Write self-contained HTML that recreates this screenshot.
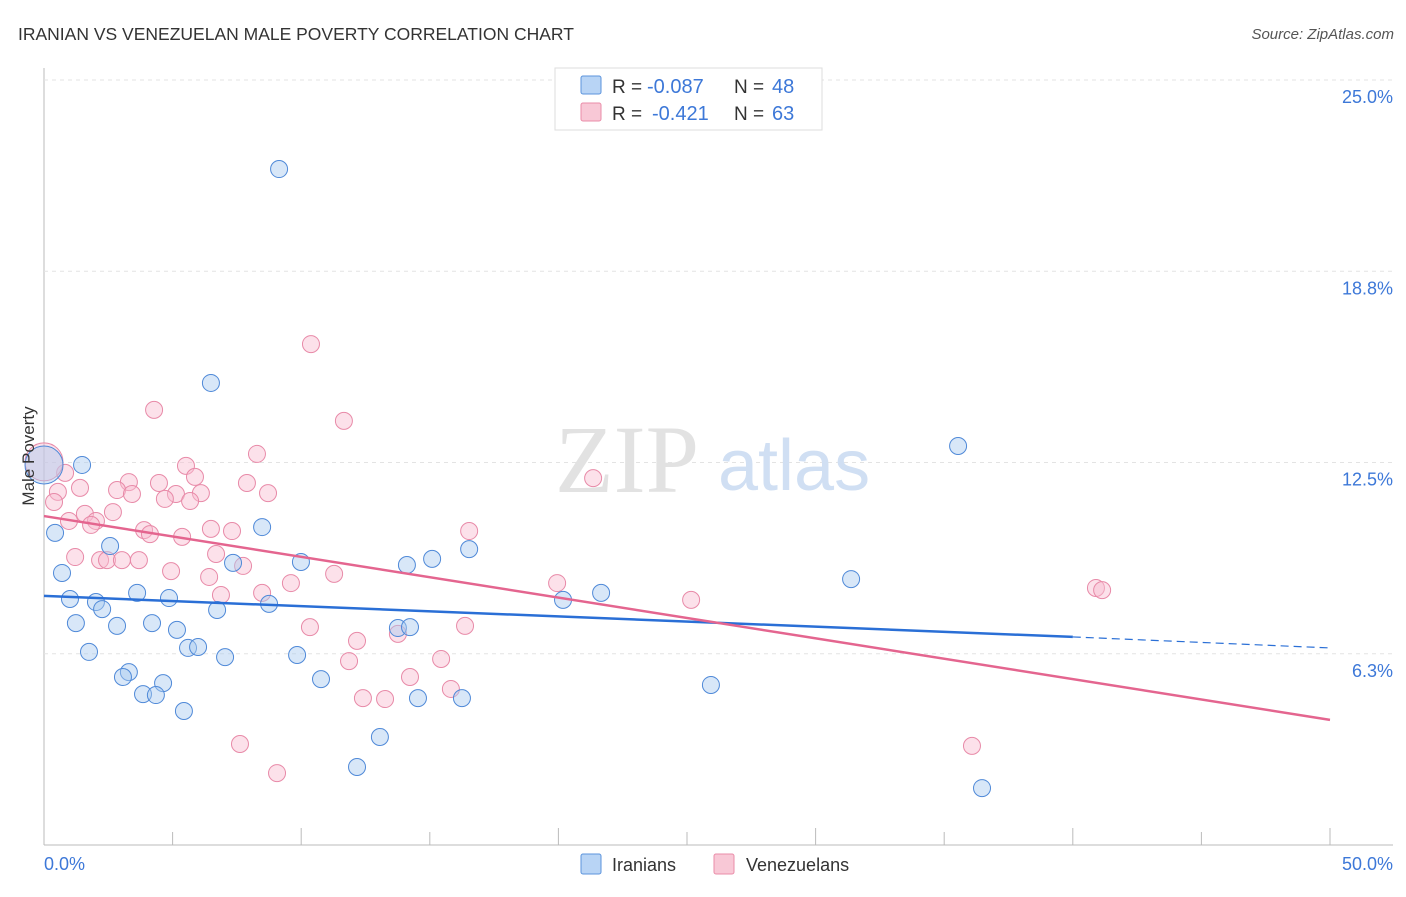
<!DOCTYPE html>
<html><head><meta charset="utf-8"><style>
body{margin:0;background:#fff;font-family:"Liberation Sans",sans-serif}
</style></head><body>
<svg id="chart" width="1406" height="892" xmlns="http://www.w3.org/2000/svg" font-family="Liberation Sans, sans-serif">
<text x="18" y="40" font-size="17.5" fill="#333">IRANIAN VS VENEZUELAN MALE POVERTY CORRELATION CHART</text>
<text x="1394" y="39" font-size="15" fill="#555" font-style="italic" text-anchor="end">Source: ZipAtlas.com</text>
<g id="grid"></g>
<text x="555" y="492" font-size="96" fill="#e2e2e2" font-family="Liberation Serif, serif">ZIP</text>
<text x="718" y="490" font-size="72" fill="#d0dff3">atlas</text>
<g id="marks"></g>
<text x="34" y="456" font-size="17" fill="#333" text-anchor="middle" transform="rotate(-90 34 456)">Male Poverty</text>
<g>
<rect x="555" y="68" width="267" height="62" fill="#fff" stroke="#ddd"/>
<rect x="581" y="76" width="20" height="18" fill="#b8d4f5" stroke="#5b93dc" rx="2"/>
<rect x="581" y="103" width="20" height="18" fill="#f8c8d6" stroke="#ea8ca8" rx="2"/>
<text x="612" y="93" font-size="19" fill="#333">R =</text>
<text x="647" y="93" font-size="20" fill="#3d78d8">-0.087</text>
<text x="734" y="93" font-size="19" fill="#333">N =</text>
<text x="772" y="93" font-size="20" fill="#3d78d8">48</text>
<text x="612" y="120" font-size="19" fill="#333">R =</text>
<text x="652" y="120" font-size="20" fill="#3d78d8">-0.421</text>
<text x="734" y="120" font-size="19" fill="#333">N =</text>
<text x="772" y="120" font-size="20" fill="#3d78d8">63</text>
</g>
<g>
<rect x="581" y="854" width="20" height="20" fill="#b8d4f5" stroke="#5b93dc" rx="2"/>
<text x="612" y="871" font-size="18" fill="#333">Iranians</text>
<rect x="714" y="854" width="20" height="20" fill="#f8c8d6" stroke="#ea8ca8" rx="2"/>
<text x="746" y="871" font-size="18" fill="#333">Venezuelans</text>
</g>
</svg>
<script>
const yTicks=[6.25,12.5,18.75,25];
const yTickLabels=["6.3%","12.5%","18.8%","25.0%"];
const xTickLabels=["0.0%","50.0%"];
const iranX=[9.14,6.49,1.48,0.43,8.48,2.57,0.70,9.99,7.35,15.09,16.53,14.11,1.01,3.62,4.86,2.02,2.26,6.73,8.75,20.18,21.66,31.38,35.54,1.24,2.84,4.20,5.17,13.76,14.23,1.75,5.60,5.99,7.04,9.84,3.30,3.07,4.63,10.77,3.85,4.35,5.44,14.54,16.25,25.93,13.06,12.17,36.47,0.0];
const iranY=[22.09,15.10,12.42,10.20,10.39,9.77,8.89,9.25,9.22,9.35,9.67,9.15,8.04,8.24,8.07,7.94,7.71,7.68,7.88,8.01,8.24,8.69,13.04,7.25,7.16,7.25,7.03,7.09,7.12,6.31,6.44,6.47,6.14,6.21,5.65,5.49,5.29,5.42,4.93,4.90,4.38,4.80,4.80,5.23,3.53,2.55,1.86,12.42];
const venX=[10.38,4.28,11.66,8.28,5.52,0.82,5.87,3.30,7.89,4.47,1.40,2.84,0.54,3.42,5.13,6.10,8.71,4.70,5.68,0.39,21.35,1.59,2.68,0.97,2.02,1.83,3.89,4.12,5.37,6.49,7.31,16.53,6.69,1.21,2.18,2.45,3.03,3.69,4.94,7.74,6.42,11.28,9.60,19.95,40.90,41.14,6.88,8.48,25.16,10.34,16.37,12.17,13.76,15.44,11.86,14.23,15.82,12.40,13.26,7.62,36.08,9.06,0.0];
const venY=[16.37,14.22,13.86,12.78,12.39,12.16,12.03,11.86,11.83,11.83,11.67,11.60,11.54,11.47,11.47,11.50,11.50,11.31,11.24,11.21,11.99,10.82,10.88,10.59,10.59,10.46,10.29,10.16,10.07,10.33,10.26,10.26,9.51,9.41,9.31,9.31,9.31,9.31,8.95,9.12,8.76,8.86,8.56,8.56,8.40,8.33,8.17,8.24,8.01,7.12,7.16,6.67,6.90,6.08,6.01,5.49,5.10,4.80,4.77,3.30,3.24,2.35,12.52];
const iranTrend=[8.14,6.80,6.44];
const venTrend=[10.75,4.09];
const NS="http://www.w3.org/2000/svg";
const X=v=>44+v/50*1286, Y=v=>845-v*30.6;
function mk(t,a,p){const e=document.createElementNS(NS,t);for(const k in a)e.setAttribute(k,a[k]);p.appendChild(e);return e;}
const grid=document.getElementById('grid'),marks=document.getElementById('marks');
mk('line',{x1:44,y1:68,x2:44,y2:845,stroke:'#bbb'},grid);
mk('line',{x1:44,y1:845,x2:1393,y2:845,stroke:'#bbb'},grid);
yTicks.forEach((t,i)=>{
 const l=mk('line',{x1:44,y1:Y(t),x2:1393,y2:Y(t),stroke:'#e3e3e3','stroke-dasharray':'4,4'},grid);
 
 const tx=mk('text',{x:1393,y:Y(t)+23,'font-size':18,fill:'#3d78d8','text-anchor':'end'},grid);
 tx.textContent=yTickLabels[i];
 
});
for(let i=0;i<=10;i++){mk('line',{x1:X(i*5),y1:845,x2:X(i*5),y2:i%2?832:828,stroke:'#bbb'},grid);}
xTickLabels.forEach((s,i)=>{const tx=mk('text',{x:i?1393:44,y:870,'font-size':18,fill:'#3d78d8','text-anchor':i?'end':'start'},grid);tx.textContent=s;
});
function pts(xs,ys,fill,stroke,name){xs.forEach((x,i)=>{const big=x===0;
 const c=mk('circle',{cx:X(x),cy:Y(ys[i]),r:big?19:8.5,fill:fill,'fill-opacity':0.45,stroke:stroke,'stroke-width':1},marks);
 });}
pts(venX,venY,'#f8bcd0','#e88aa8','venezuelan-point');
pts(iranX,iranY,'#a9c9f0','#4f89d8','iranian-point');
let l=mk('line',{x1:X(0),y1:Y(iranTrend[0]),x2:X(40),y2:Y(iranTrend[1]),stroke:'#2a6fd6','stroke-width':2.5},marks);

l=mk('line',{x1:X(40),y1:Y(iranTrend[1]),x2:X(50),y2:Y(iranTrend[2]),stroke:'#2a6fd6','stroke-width':1.2,'stroke-dasharray':'8,5'},marks);

l=mk('line',{x1:X(0),y1:Y(venTrend[0]),x2:X(50),y2:Y(venTrend[1]),stroke:'#e4658f','stroke-width':2.5},marks);

</script>
</body></html>
